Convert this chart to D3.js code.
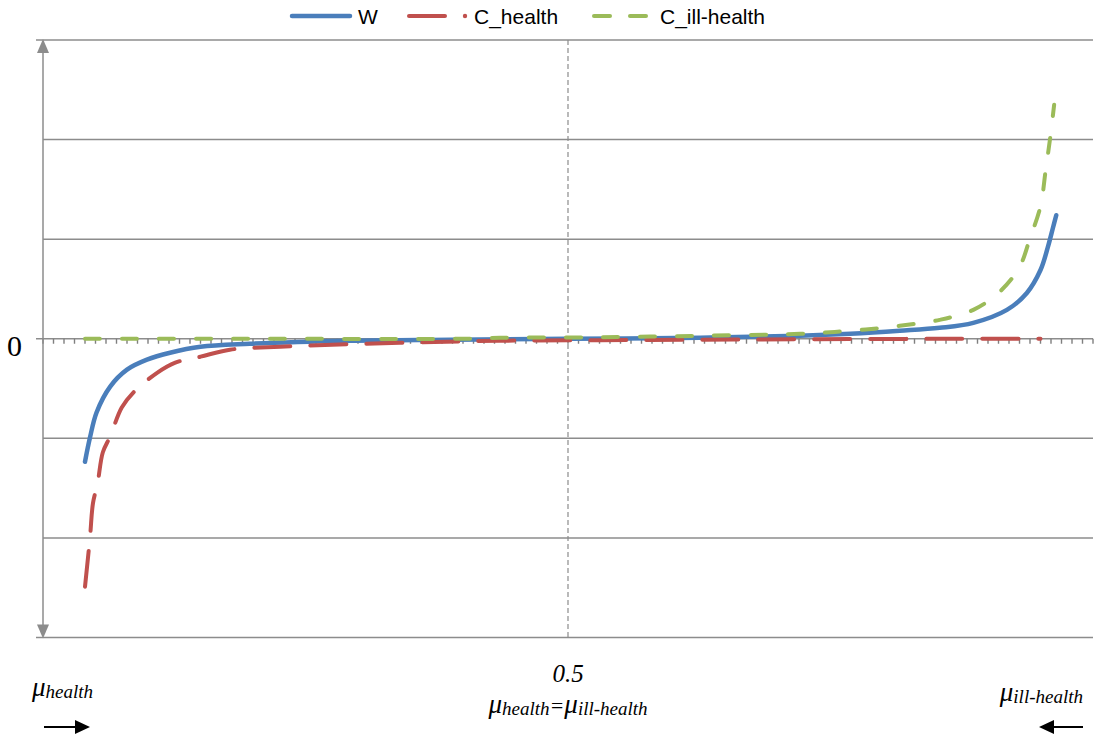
<!DOCTYPE html>
<html><head><meta charset="utf-8">
<script src="https://cdn.jsdelivr.net/npm/d3@7"></script>
<style>body{margin:0;background:#fff}svg{display:block}</style>
</head><body>
<svg id="c" width="1094" height="738"></svg>
<script>
// Data (x = mu_health share, y in grid units)
const seriesNames = ["W", "C_health", "C_ill-health"];
const wX = [0.04,0.0448,0.051,0.064,0.08,0.099,0.121,0.15,0.197,0.292,0.388,0.5,0.626,0.721,0.769,0.816,0.854,0.886,0.918,0.937,0.95,0.957,0.962,0.965];
const wY = [-1.235,-0.99,-0.74,-0.48,-0.31,-0.21,-0.14,-0.08,-0.05,-0.02,-0.01,0,0.01,0.03,0.05,0.08,0.11,0.16,0.29,0.46,0.69,0.92,1.12,1.24];
const hX = [0.04,0.0448,0.0476,0.052,0.057,0.064,0.075,0.086,0.109,0.126,0.15,0.178,0.226,0.34,0.435,0.53,0.626,0.721,0.873,0.95];
const hY = [-2.49,-1.99,-1.65,-1.45,-1.14,-0.98,-0.69,-0.54,-0.34,-0.24,-0.18,-0.11,-0.08,-0.04,-0.02,-0.015,-0.01,-0.005,0,0];
const iX = [0.04,0.2,0.4,0.435,0.53,0.626,0.721,0.769,0.816,0.854,0.886,0.911,0.93,0.94,0.95,0.955,0.959,0.963];
const iY = [0,0,0,0.01,0.015,0.03,0.05,0.08,0.13,0.19,0.29,0.47,0.72,1.01,1.33,1.70,2.0,2.35];
const yGrid = [-3,-2,-1,0,1,2,3];
const xTicks = d3.range(0, 101).map(d => d / 100);

const svg = d3.select("#c");
const x = d3.scaleLinear().domain([0, 1]).range([43, 1093]);
const y = d3.scaleLinear().domain([-3, 3]).range([637.5, 40]);
const gray = "#8c8c8c";

// gridlines
svg.append("g").selectAll("line").data(yGrid).join("line")
  .attr("x1", x(0)).attr("x2", x(1))
  .attr("y1", d => y(d)).attr("y2", d => y(d))
  .attr("stroke", gray).attr("stroke-width", 1.5);
// small ticks to left of axis
svg.append("g").selectAll("line").data([-3,0,3]).join("line")
  .attr("x1", x(0) - 7).attr("x2", x(0))
  .attr("y1", d => y(d)).attr("y2", d => y(d))
  .attr("stroke", gray).attr("stroke-width", 1.5);
// minor ticks on zero line
svg.append("g").selectAll("line").data(xTicks).join("line")
  .attr("x1", d => x(d)).attr("x2", d => x(d))
  .attr("y1", y(0)).attr("y2", y(0) + 5)
  .attr("stroke", "#7f7f7f").attr("stroke-width", 1.4);
// vertical dashed center line
svg.append("line").attr("x1", x(0.5)).attr("x2", x(0.5))
  .attr("y1", y(3)).attr("y2", y(-3))
  .attr("stroke", gray).attr("stroke-width", 1.2).attr("stroke-dasharray", "5,3");
// left axis with arrows
svg.append("line").attr("x1", x(0)).attr("x2", x(0))
  .attr("y1", y(3) + 8).attr("y2", y(-3) - 8)
  .attr("stroke", gray).attr("stroke-width", 1.5);
svg.append("path").attr("d", `M${x(0)},${y(3)-1} L${x(0)-6},${y(3)+13} L${x(0)+6},${y(3)+13}Z`).attr("fill", gray);
svg.append("path").attr("d", `M${x(0)},${y(-3)+1} L${x(0)-6},${y(-3)-13} L${x(0)+6},${y(-3)-13}Z`).attr("fill", gray);

// series
const line = d3.line().x(d => x(d[0])).y(d => y(d[1])).curve(d3.curveCatmullRom.alpha(0.5));
const series = [
  {xs: wX, ys: wY, color: "#4a7ebb", w: 4.5, dash: null},
  {xs: hX, ys: hY, color: "#c0504d", w: 4, dash: "36 20"},
  {xs: iX, ys: iY, color: "#9bbb59", w: 4, dash: "15 22"}
];
series.forEach(s => {
  svg.append("path").datum(s.xs.map((v, i) => [v, s.ys[i]]))
    .attr("d", line).attr("fill", "none")
    .attr("stroke", s.color).attr("stroke-width", s.w)
    .attr("stroke-linecap", "round").attr("stroke-linejoin", "round")
    .attr("stroke-dasharray", s.dash);
});

// legend
const lg = svg.append("g").attr("font-family", "Liberation Sans, Arial, sans-serif").attr("font-size", 21);
lg.append("line").attr("x1", 292).attr("x2", 350).attr("y1", 16).attr("y2", 16)
  .attr("stroke", "#4a7ebb").attr("stroke-width", 4.5).attr("stroke-linecap", "round");
lg.append("text").attr("x", 358).attr("y", 24).text(seriesNames[0]);
lg.append("line").attr("x1", 409).attr("x2", 445).attr("y1", 16).attr("y2", 16)
  .attr("stroke", "#c0504d").attr("stroke-width", 4).attr("stroke-linecap", "round");
lg.append("circle").attr("cx", 465).attr("cy", 16).attr("r", 2.2).attr("fill", "#c0504d");
lg.append("text").attr("x", 474).attr("y", 24).text(seriesNames[1]);
lg.append("line").attr("x1", 594).attr("x2", 610).attr("y1", 16).attr("y2", 16)
  .attr("stroke", "#9bbb59").attr("stroke-width", 4).attr("stroke-linecap", "round");
lg.append("line").attr("x1", 630).attr("x2", 646).attr("y1", 16).attr("y2", 16)
  .attr("stroke", "#9bbb59").attr("stroke-width", 4).attr("stroke-linecap", "round");
lg.append("text").attr("x", 660).attr("y", 24).text(seriesNames[2]);

// labels
const serif = "Liberation Serif, Times New Roman, serif";
svg.append("text").attr("x", 7).attr("y", 356).attr("font-family", serif).attr("font-size", 30).text("0");
svg.append("text").attr("x", x(0.5)).attr("y", 682).attr("text-anchor", "middle")
  .attr("font-family", serif).attr("font-style", "italic").attr("font-size", 25).text("0.5");

function muLabel(g, parts) {
  const t = g.append("text").attr("font-family", serif).attr("font-style", "italic");
  parts.forEach(p => {
    t.append("tspan").attr("font-size", p.s).attr("dy", p.dy || 0).text(p.t);
  });
  return t;
}
muLabel(svg, [{t: "μ", s: 27}, {t: "health", s: 19, dy: 2}])
  .attr("x", 32).attr("y", 696);
muLabel(svg, [{t: "μ", s: 27}, {t: "health", s: 19, dy: 2}, {t: "=", s: 22, dy: -2}, {t: "μ", s: 27}, {t: "ill-health", s: 19, dy: 2}])
  .attr("x", x(0.5)).attr("y", 713).attr("text-anchor", "middle");
muLabel(svg, [{t: "μ", s: 27}, {t: "ill-health", s: 19, dy: 2}])
  .attr("x", 1083).attr("y", 701).attr("text-anchor", "end");

// arrows
svg.append("line").attr("x1", 44).attr("x2", 78).attr("y1", 727).attr("y2", 727).attr("stroke", "#000").attr("stroke-width", 2);
svg.append("path").attr("d", "M90,727 L75,720 L75,734Z").attr("fill", "#000");
svg.append("line").attr("x1", 1083).attr("x2", 1051).attr("y1", 727).attr("y2", 727).attr("stroke", "#000").attr("stroke-width", 2);
svg.append("path").attr("d", "M1039,727 L1054,720 L1054,734Z").attr("fill", "#000");
</script>
</body></html>
